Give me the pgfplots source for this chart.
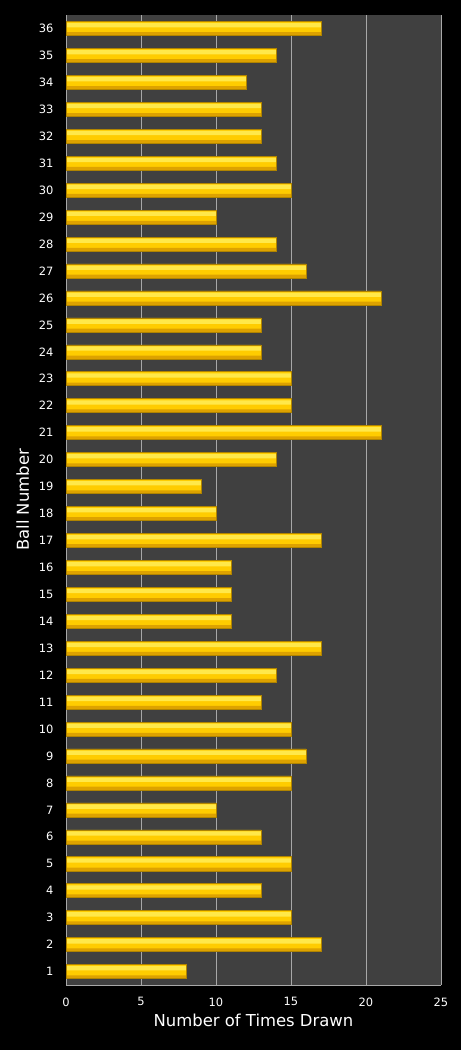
\documentclass[border=0pt]{standalone}
\usepackage{pgfplots}
\usepackage{pgfplotstable}
\pgfplotsset{compat=1.18}
\usepackage{fontspec}
\setmainfont{DejaVu Sans}

\definecolor{plotbg}{HTML}{404040}
\definecolor{gridgray}{HTML}{A8A8A8}
\definecolor{goldtop}{HTML}{FFE84A}
\definecolor{goldmid}{HTML}{FFCC00}
\definecolor{goldbot}{HTML}{DDA200}
\definecolor{goldedge}{HTML}{B08400}

\pgfplotstableread{
count ball
8 1
17 2
15 3
13 4
15 5
13 6
10 7
15 8
16 9
15 10
13 11
14 12
17 13
11 14
11 15
11 16
17 17
10 18
9 19
14 20
21 21
15 22
15 23
13 24
13 25
21 26
16 27
14 28
10 29
15 30
14 31
13 32
13 33
12 34
14 35
17 36
}\draws

\begin{document}
\begin{tikzpicture}
\fill[black] (0,0) rectangle (461bp,1050bp);
\begin{axis}[
    at={(66bp,65bp)}, anchor=south west,
    scale only axis, width=375bp, height=970bp,
    xbar,
    xmin=0, xmax=25, ymin=0.5, ymax=36.5,
    xtick={0,5,...,25}, ytick={1,...,36},
    axis background/.style={fill=plotbg},
    xmajorgrids, grid style={gridgray, line width=0.6pt},
    axis x line*=bottom, axis y line*=left,
    axis line style={gridgray, line width=0.6pt, -},
    major tick length=0pt,
    tick label style={white, font=\fontsize{11.5}{13}\selectfont},
    /pgf/number format/assume math mode=true,
    xticklabel style={yshift=-9bp},
    yticklabel style={xshift=-9bp},
    xlabel={Number of Times Drawn}, ylabel={Ball Number},
    label style={white, font=\fontsize{16.5}{19}\selectfont},
    xlabel style={yshift=-1bp},
    ylabel style={yshift=3bp},
    clip=false,
]
% base bar
\addplot[draw=none, fill=goldmid, bar width=0.52, bar shift=0] table[x=count, y=ball] {\draws};
% upper highlight
\addplot[draw=none, fill=goldtop, bar width=0.16, bar shift=0.12] table[x=count, y=ball] {\draws};
% lower shade
\addplot[draw=none, fill=goldbot, bar width=0.12, bar shift=-0.2] table[x=count, y=ball] {\draws};
% outline
\addplot[draw=goldedge, line width=0.5pt, fill=none, bar width=0.52, bar shift=0] table[x=count, y=ball] {\draws};
\end{axis}
\pgfresetboundingbox
\useasboundingbox (0,0) rectangle (461bp,1050bp);
\end{tikzpicture}
\end{document}
